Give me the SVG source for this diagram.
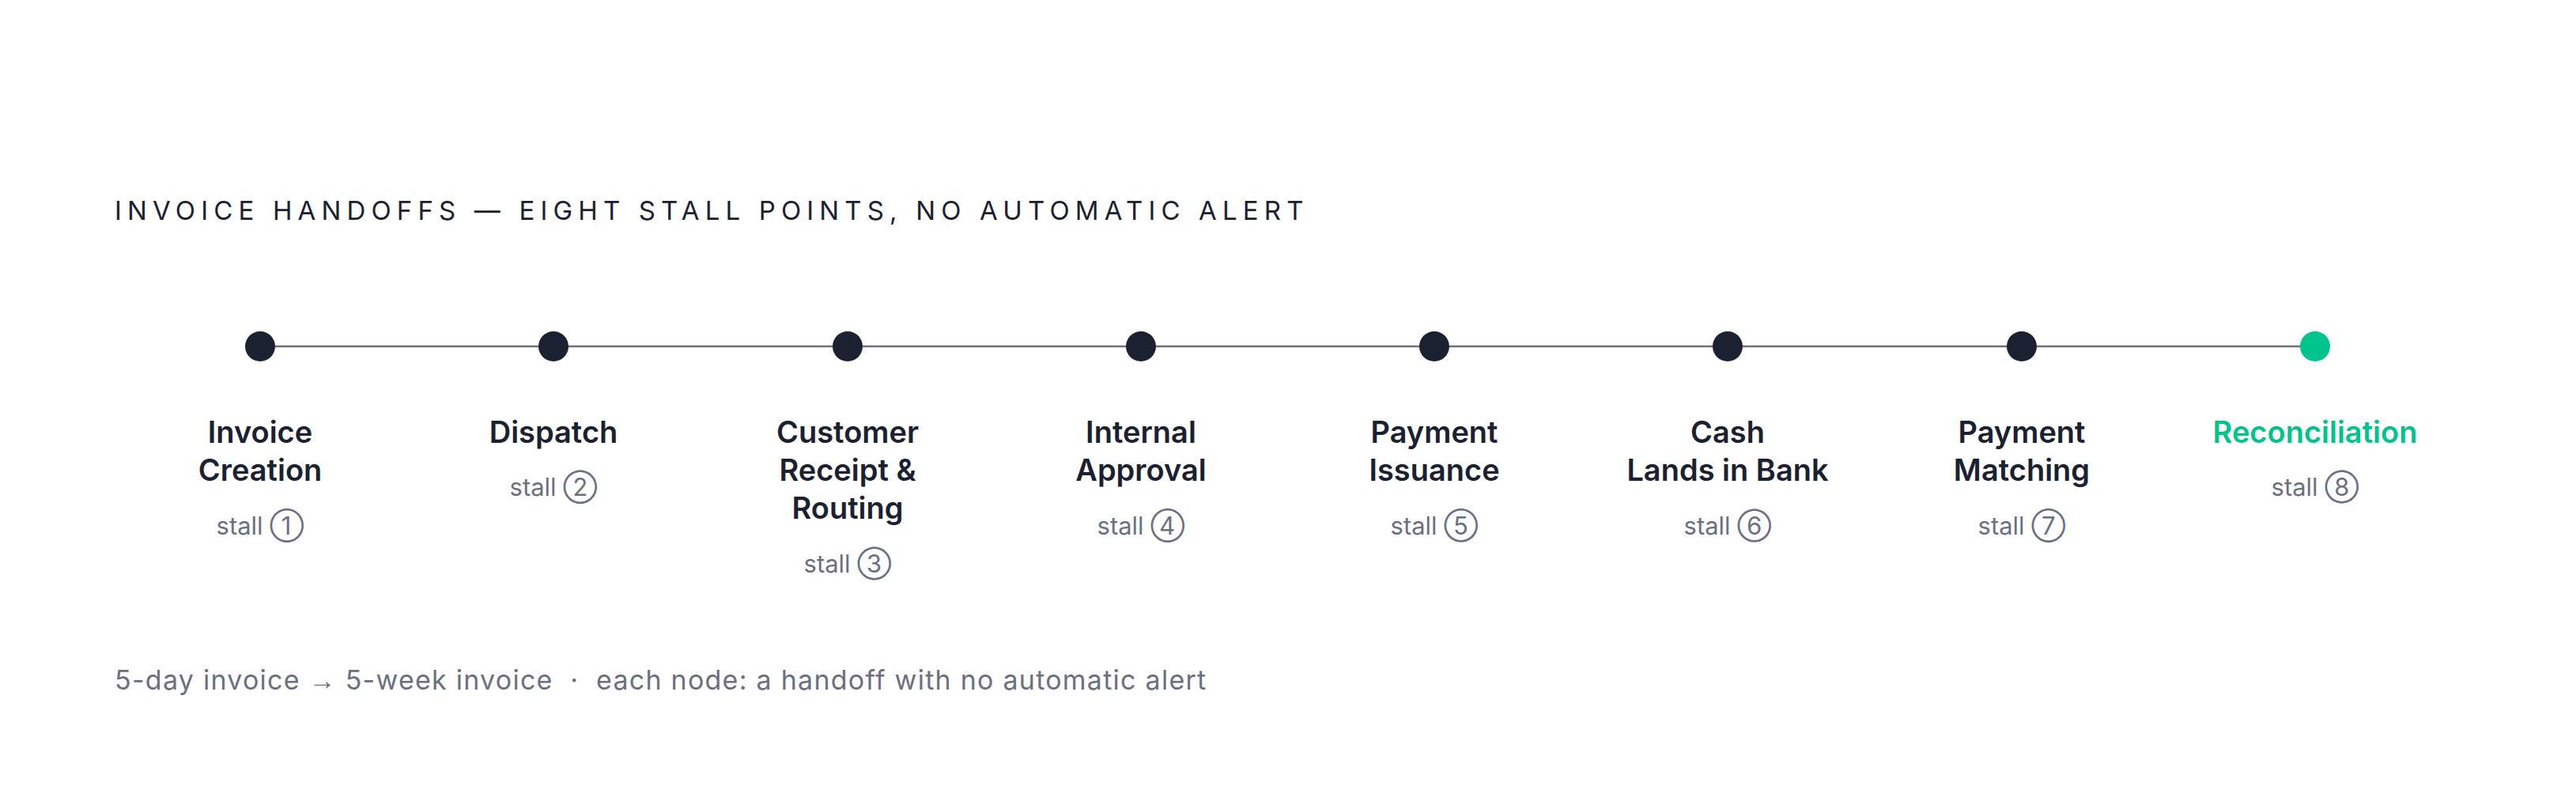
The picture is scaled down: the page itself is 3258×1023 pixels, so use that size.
<svg xmlns="http://www.w3.org/2000/svg" width="3258" height="1023" viewBox="0 0 3258 1023">
<style>
.title{font-family:Inter,"Liberation Sans",sans-serif;font-size:33px;font-weight:400;fill:#1b2130;letter-spacing:7.15px}
.lbl{font-family:Inter,"Liberation Sans",sans-serif;font-size:38px;font-weight:600;fill:#1b2130;text-anchor:middle}
.lbl.end{fill:#00c48c}
.stall{font-family:Inter,"Liberation Sans",sans-serif;font-size:31px;fill:#6b7080;text-anchor:middle}
.foot{font-family:Inter,"Noto Sans","Liberation Sans",sans-serif;font-size:34px;fill:#6b7080;letter-spacing:1.25px;white-space:pre}
.ar{font-family:"Noto Sans","Liberation Sans",sans-serif;font-weight:300}
.dot{fill:#1b2130}
.dot.end{fill:#00c48c}
.conn line{stroke:#6e717d;stroke-width:2.5}
</style>
<rect width="3258" height="1023" fill="#ffffff"/>
<text class="title" x="145" y="278">INVOICE HANDOFFS — EIGHT STALL POINTS, NO AUTOMATIC ALERT</text>
<g id="connectors" class="conn">
<line x1="329" y1="438" x2="700" y2="438"/>
<line x1="700" y1="438" x2="1072" y2="438"/>
<line x1="1072" y1="438" x2="1443" y2="438"/>
<line x1="1443" y1="438" x2="1814" y2="438"/>
<line x1="1814" y1="438" x2="2185" y2="438"/>
<line x1="2185" y1="438" x2="2557" y2="438"/>
<line x1="2557" y1="438" x2="2928" y2="438"/>
</g>
<g id="node1"><circle class="dot" cx="329" cy="438" r="19"/><text class="lbl" x="329" y="560">Invoice</text><text class="lbl" x="329" y="608">Creation</text><text class="stall" x="329" y="676">stall ①</text></g>
<g id="node2"><circle class="dot" cx="700" cy="438" r="19"/><text class="lbl" x="700" y="560">Dispatch</text><text class="stall" x="700" y="627">stall ②</text></g>
<g id="node3"><circle class="dot" cx="1072" cy="438" r="19"/><text class="lbl" x="1072" y="560">Customer</text><text class="lbl" x="1072" y="608">Receipt &amp;</text><text class="lbl" x="1072" y="656">Routing</text><text class="stall" x="1072" y="724">stall ③</text></g>
<g id="node4"><circle class="dot" cx="1443" cy="438" r="19"/><text class="lbl" x="1443" y="560">Internal</text><text class="lbl" x="1443" y="608">Approval</text><text class="stall" x="1443" y="676">stall ④</text></g>
<g id="node5"><circle class="dot" cx="1814" cy="438" r="19"/><text class="lbl" x="1814" y="560">Payment</text><text class="lbl" x="1814" y="608">Issuance</text><text class="stall" x="1814" y="676">stall ⑤</text></g>
<g id="node6"><circle class="dot" cx="2185" cy="438" r="19"/><text class="lbl" x="2185" y="560">Cash</text><text class="lbl" x="2185" y="608">Lands in Bank</text><text class="stall" x="2185" y="676">stall ⑥</text></g>
<g id="node7"><circle class="dot" cx="2557" cy="438" r="19"/><text class="lbl" x="2557" y="560">Payment</text><text class="lbl" x="2557" y="608">Matching</text><text class="stall" x="2557" y="676">stall ⑦</text></g>
<g id="node8"><circle class="dot end" cx="2928" cy="438" r="19"/><text class="lbl end" x="2928" y="560">Reconciliation</text><text class="stall" x="2928" y="627">stall ⑧</text></g>
<text class="foot" x="145" y="872" xml:space="preserve">5-day invoice <tspan class="ar">→</tspan> 5-week invoice  ·  each node: a handoff with no automatic alert</text>
</svg>
